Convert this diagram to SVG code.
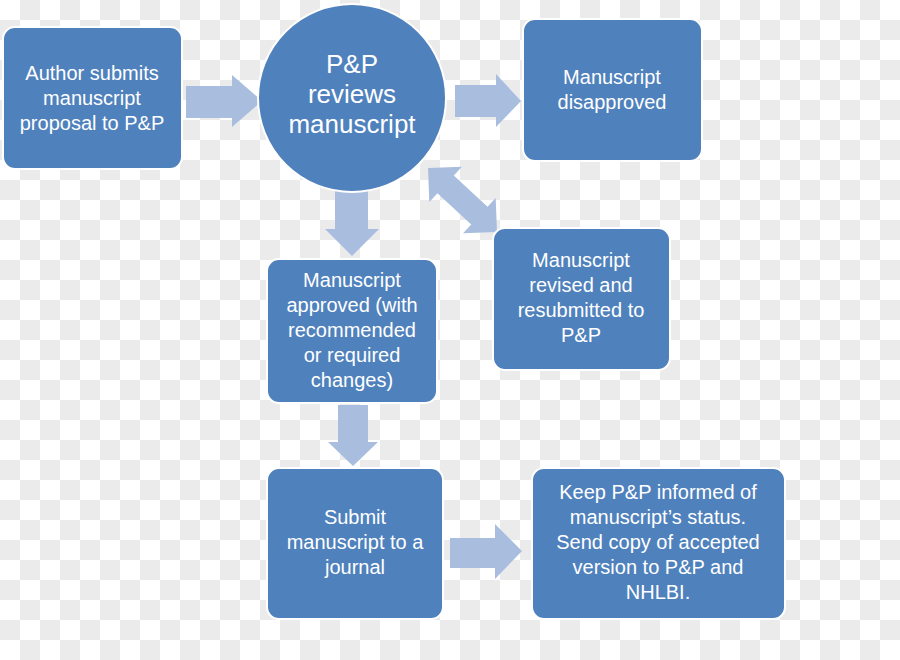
<svg xmlns="http://www.w3.org/2000/svg" width="900" height="660" viewBox="0 0 900 660">
  <defs>
    <pattern id="checker" width="40" height="40" patternUnits="userSpaceOnUse">
      <rect width="40" height="40" fill="#ffffff"/>
      <rect x="20" y="0" width="20" height="20" fill="#ebebeb"/>
      <rect x="0" y="20" width="20" height="20" fill="#ebebeb"/>
    </pattern>
    <style>
      .node { fill: #4f81bd; stroke: #ffffff; stroke-width: 2; }
      .arrow { fill: #a9bedf; stroke: none; }
      .t { fill: #ffffff; font-family: "Liberation Sans", Arial, sans-serif; font-size: 20px; text-anchor: middle; }
      .tc { fill: #ffffff; font-family: "Liberation Sans", Arial, sans-serif; font-size: 26px; text-anchor: middle; }
    </style>
  </defs>
  <rect width="900" height="660" fill="url(#checker)"/>

  <g id="connectors">
    <polygon class="arrow" points="186,86 232,86 232,75 262,101 232,127 232,118 186,118"/>
    <polygon class="arrow" points="455,85 496,85 496,74 521,101 496,127 496,117 455,117"/>
    <polygon class="arrow" points="335,190 368,190 368,229 379,229 352,256 325,229 335,229"/>
    <polygon class="arrow" points="338,405 368,405 368,442 378,442 353,466 328,442 338,442"/>
    <polygon class="arrow" points="450,538 495,538 495,524 522,551 495,579 495,568 450,568"/>
    <polygon class="arrow" transform="translate(462.5,200) rotate(42.8)" points="-47,0 -23,-24 -23,-12 23,-12 23,-24 47,0 23,24 23,12 -23,12 -23,24"/>
  </g>

  <g id="author">
    <rect class="node" x="3" y="27" width="179" height="142" rx="12"/>
    <text class="t" x="92" y="80">Author submits</text>
    <text class="t" x="92" y="105">manuscript</text>
    <text class="t" x="92" y="130">proposal to P&amp;P</text>
  </g>

  <g id="review">
    <circle class="node" cx="352" cy="98" r="94"/>
    <text class="tc" x="352" y="73">P&amp;P</text>
    <text class="tc" x="352" y="103">reviews</text>
    <text class="tc" x="352" y="133">manuscript</text>
  </g>

  <g id="disapproved">
    <rect class="node" x="523" y="19" width="179" height="142" rx="12"/>
    <text class="t" x="612" y="84">Manuscript</text>
    <text class="t" x="612" y="109">disapproved</text>
  </g>

  <g id="revised">
    <rect class="node" x="493" y="228" width="177" height="142" rx="12"/>
    <text class="t" x="581" y="267">Manuscript</text>
    <text class="t" x="581" y="292">revised and</text>
    <text class="t" x="581" y="317">resubmitted to</text>
    <text class="t" x="581" y="342">P&amp;P</text>
  </g>

  <g id="approved">
    <rect class="node" x="267" y="259" width="170" height="144" rx="12"/>
    <text class="t" x="352" y="287">Manuscript</text>
    <text class="t" x="352" y="312">approved (with</text>
    <text class="t" x="352" y="337">recommended</text>
    <text class="t" x="352" y="362">or required</text>
    <text class="t" x="352" y="387">changes)</text>
  </g>

  <g id="submit">
    <rect class="node" x="267" y="468" width="176" height="151" rx="12"/>
    <text class="t" x="355" y="524">Submit</text>
    <text class="t" x="355" y="549">manuscript to a</text>
    <text class="t" x="355" y="574">journal</text>
  </g>

  <g id="inform">
    <rect class="node" x="532" y="468" width="253" height="151" rx="12"/>
    <text class="t" x="658" y="499">Keep P&amp;P informed of</text>
    <text class="t" x="658" y="524">manuscript’s status.</text>
    <text class="t" x="658" y="549">Send copy of accepted</text>
    <text class="t" x="658" y="574">version to P&amp;P and</text>
    <text class="t" x="658" y="599">NHLBI.</text>
  </g>
</svg>
